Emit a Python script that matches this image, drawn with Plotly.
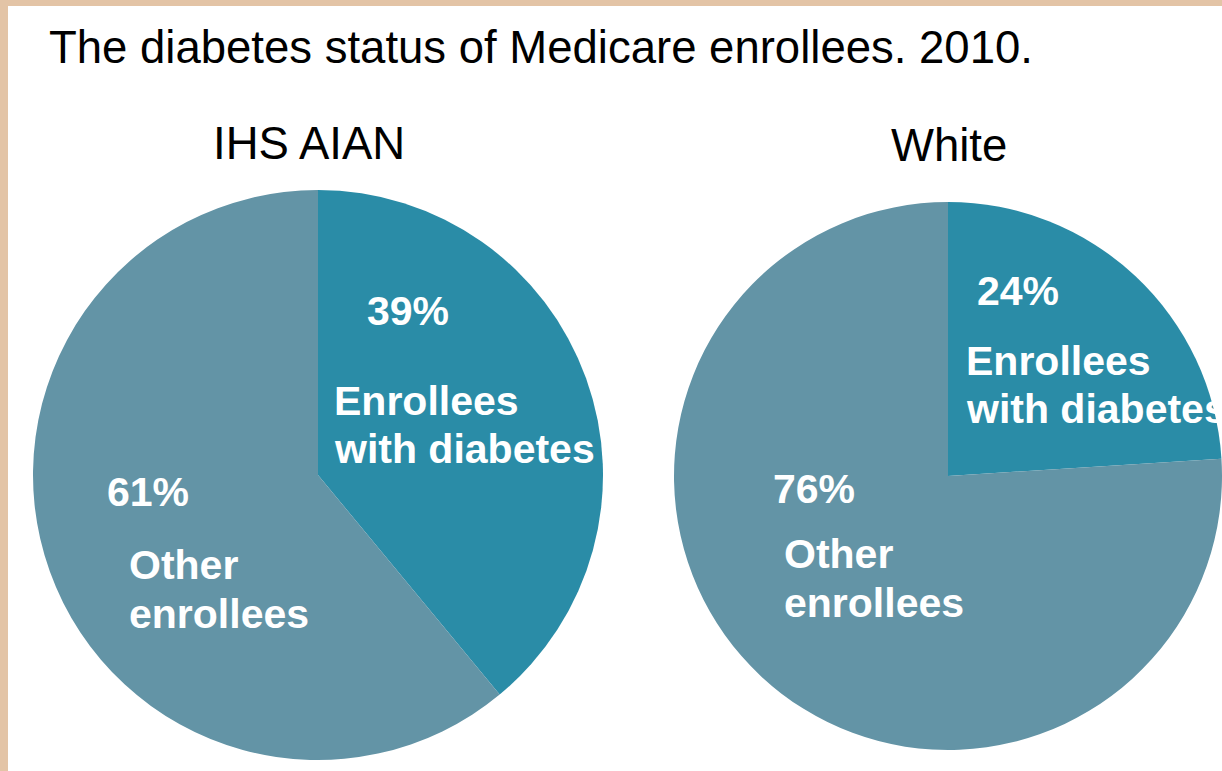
import plotly.graph_objects as go

# ---- data ----
groups = ["IHS AIAN", "White"]
categories = ["Enrollees with diabetes", "Other enrollees"]
ihs_aian_values = [39, 61]
white_values = [24, 76]
title_text = "The diabetes status of Medicare enrollees. 2010."

W, H = 1222, 771
FONT = "Liberation Sans, Arial, sans-serif"
COL_DIAB = "#2A8CA7"
COL_OTHER = "#6394A6"


def px(x):
    return x / W


def py(y):
    return 1 - y / H


fig = go.Figure()

fig.add_trace(go.Pie(
    labels=categories, values=ihs_aian_values, sort=False, direction="clockwise",
    rotation=0, textinfo="none", showlegend=False,
    marker=dict(colors=[COL_DIAB, COL_OTHER], line=dict(width=0)),
    domain=dict(x=[px(33), px(603)], y=[py(760), py(190)]),
    name=groups[0],
))
fig.add_trace(go.Pie(
    labels=categories, values=white_values, sort=False, direction="clockwise",
    rotation=0, textinfo="none", showlegend=False,
    marker=dict(colors=[COL_DIAB, COL_OTHER], line=dict(width=0)),
    domain=dict(x=[px(674), 1.0], y=[py(752), py(200)]),
    name=groups[1],
))

annotations = []


def ann(text, x, y, size, color="white", bold=True, xanchor="left"):
    annotations.append(dict(
        text=f"<b>{text}</b>" if bold else text,
        x=px(x), y=py(y), xref="paper", yref="paper",
        xanchor=xanchor, yanchor="middle", showarrow=False,
        font=dict(family=FONT, size=size, color=color),
    ))


# title and group titles
ann(title_text, 47, 47, 45.5, color="black", bold=False)
ann(groups[0], 309, 143, 45.5, color="black", bold=False, xanchor="center")
ann(groups[1], 949, 145, 45.5, color="black", bold=False, xanchor="center")

# pie labels
diab_words = categories[0].split(" ", 1)   # ["Enrollees", "with diabetes"]
other_words = categories[1].split(" ", 1)  # ["Other", "enrollees"]

LS = 41
ann(f"{ihs_aian_values[0]}%", 408, 311, LS, xanchor="center")
ann(diab_words[0], 332, 401, LS)
ann(diab_words[1], 332, 449, LS)
ann(f"{ihs_aian_values[1]}%", 148, 492, LS, xanchor="center")
ann(other_words[0], 127, 565, LS)
ann(other_words[1], 127, 614, LS)

ann(f"{white_values[0]}%", 1018, 291, LS, xanchor="center")
ann(diab_words[0], 964, 361, LS)
ann(diab_words[1], 964, 409, LS)
ann(f"{white_values[1]}%", 814, 489, LS, xanchor="center")
ann(other_words[0], 782, 554, LS)
ann(other_words[1], 782, 603, LS)

# beige frame (decorative border)
shapes = [
    dict(type="rect", xref="paper", yref="paper", x0=0, x1=px(8), y0=0, y1=1,
         fillcolor="#E3C4A6", line=dict(width=0), layer="above"),
    dict(type="rect", xref="paper", yref="paper", x0=0, x1=1, y0=py(6), y1=1,
         fillcolor="#E3C4A6", line=dict(width=0), layer="above"),
]

fig.update_layout(
    width=W, height=H,
    margin=dict(l=0, r=0, t=0, b=0),
    paper_bgcolor="white", plot_bgcolor="white",
    annotations=annotations, shapes=shapes,
)

fig.write_html(
    "out.html",
    config={"displayModeBar": False},
    post_script="document.body.style.margin='0';document.body.style.overflow='hidden';",
)
